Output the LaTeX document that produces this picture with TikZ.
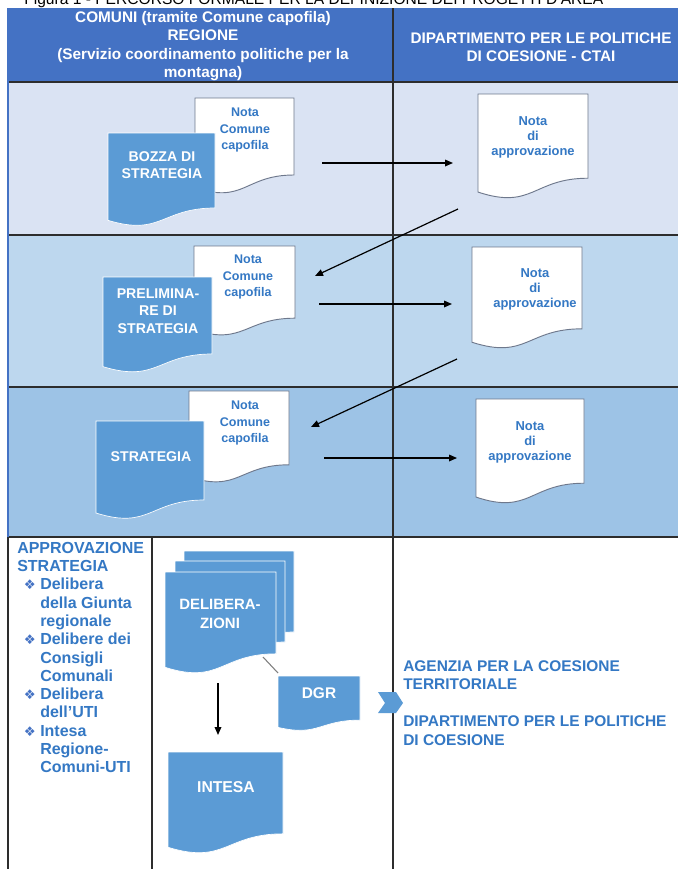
\documentclass[tikz,border=0pt]{standalone}
\usepackage{fontspec}
\setmainfont{Liberation Sans}
\newfontfamily\symfont{DejaVu Sans}
\usetikzlibrary{arrows.meta}
\definecolor{hdr}{RGB}{68,114,196}
\definecolor{rowA}{RGB}{218,227,243}
\definecolor{rowB}{RGB}{189,215,238}
\definecolor{rowC}{RGB}{157,195,230}
\definecolor{docblue}{RGB}{91,155,213}
\definecolor{txtblue}{RGB}{52,120,196}
\definecolor{gridline}{RGB}{45,45,45}
\definecolor{docedge}{RGB}{110,120,140}
\newcommand\setfs[2]{\fontsize{#1}{#2}\selectfont}
\newcommand\docshape[5]{%
 \path[#1] (#2,#3) -- ({#2+#4},#3) -- ({#2+#4},{#3+0.802*#5}) .. controls ({#2+0.5*#4},{#3+0.802*#5}) and ({#2+0.5*#4},{#3+1.107*#5}) .. (#2,{#3+0.934*#5}) -- cycle;}
\newcommand\bul{\hbox to 17.25pt{\hspace{5pt}{\symfont\mdseries\setfs{10}{10}\color{hdr}❖}\hfil}}
\newcommand\ind{\hspace*{17.25pt}}
\tikzset{
 whitedoc/.style={fill=white, draw=docedge, line width=0.7pt},
 bluedoc/.style={fill=docblue, draw=white, line width=0.5pt},
 wtext/.style={align=center, text=txtblue, font=\bfseries\setfs{9.4}{12.5}, inner sep=0pt},
 rtext/.style={align=center, text=txtblue, font=\bfseries\setfs{9.7}{11.25}, inner sep=0pt},
 btext/.style={align=center, text=white, font=\bfseries\setfs{10.6}{12.5}, inner sep=0pt},
 conn/.style={-{Triangle[length=6pt,width=5pt]}, line width=0.9pt, black},
 grid/.style={draw=gridline, line width=0.9pt},
}
\begin{document}
\begin{tikzpicture}[x=0.75pt, y=-0.75pt, font=\bfseries]
\useasboundingbox (0,0) rectangle (678,869);
\fill[white] (0,0) rectangle (678,869);
% title (cut off at top, as in the source)
\node[anchor=base west, font=\mdseries\setfs{11.7}{14}, inner sep=0pt] (title) at (24,4.5) {Figura 1 - PERCORSO FORMALE PER LA DEFINIZIONE DEI PROGETTI D’AREA};
% rows
\fill[hdr] (8,8) rectangle (678,82);
\fill[rowA] (8,82) rectangle (678,235);
\fill[rowB] (8,235) rectangle (678,387);
\fill[rowC] (8,387) rectangle (678,537);
\draw[grid] (8,82) -- (678,82);
\draw[grid] (8,235) -- (678,235);
\draw[grid] (8,387) -- (678,387);
\draw[grid] (8,537) -- (678,537);
\draw[grid] (393,8) -- (393,869);
\draw[grid] (152,537) -- (152,869);
\draw[draw=hdr, line width=1.6pt] (8,8) -- (8,537);
\draw[grid] (8,537) -- (8,869);
% header
\node[align=center, text=white, font=\bfseries\setfs{11.5}{13.9}, inner sep=0pt] (h1) at (203,46) {COMUNI (tramite Comune capofila)\\REGIONE\\(Servizio coordinamento politiche per la\\montagna)};
\node[align=center, text=white, font=\bfseries\setfs{11.5}{13.9}, inner sep=0pt] (h2) at (541,47) {DIPARTIMENTO PER LE POLITICHE\\DI COESIONE - CTAI};
% row 1
\docshape{whitedoc}{195}{98}{99}{96}
\docshape{bluedoc}{108}{133}{107}{93.5}
\docshape{whitedoc}{478}{94}{110}{105}
\node[wtext] (w1) at (245,130) {Nota\\Comune\\capofila};
\node[btext] (b1) at (162,165) {BOZZA DI\\STRATEGIA};
\node[rtext] (r1) at (533,137) {Nota\\di\\approvazione};
% row 2
\docshape{whitedoc}{194}{246}{101}{90}
\docshape{bluedoc}{103}{277}{109}{96}
\docshape{whitedoc}{472}{247}{110}{102}
\node[wtext] (w2) at (248,277) {Nota\\Comune\\capofila};
\node[btext, font=\bfseries\setfs{10.6}{13}] (b2) at (158,311) {PRELIMINA-\\RE DI\\STRATEGIA};
\node[rtext] (r2) at (535,289) {Nota\\di\\approvazione};
% row 3
\docshape{whitedoc}{189}{391}{100}{92}
\docshape{bluedoc}{96}{421}{108}{98.5}
\docshape{whitedoc}{476}{399}{108}{105}
\node[wtext] (w3) at (245,423) {Nota\\Comune\\capofila};
\node[btext] (b3) at (151,457) {STRATEGIA};
\node[rtext] (r3) at (530,442) {Nota\\di\\approvazione};
% arrows rows 1-3
\coordinate (a1s) at (322,163); \coordinate (a1e) at (453,163);
\coordinate (d1s) at (458,209); \coordinate (d1e) at (315,276);
\coordinate (a2s) at (319,304); \coordinate (a2e) at (452,304);
\coordinate (d2s) at (457,359); \coordinate (d2e) at (311,427);
\coordinate (a3s) at (324,458); \coordinate (a3e) at (457,458);
\draw[conn] (a1s) -- (a1e);
\draw[conn] (d1s) -- (d1e);
\draw[conn] (a2s) -- (a2e);
\draw[conn] (d2s) -- (d2e);
\draw[conn] (a3s) -- (a3e);
% row 4
\node[anchor=north west, align=left, text=txtblue, font=\bfseries\setfs{12}{13.7}, inner sep=0pt] (list) at (17,542) {APPROVAZIONE\\STRATEGIA\\
\bul Delibera\\ \ind della Giunta\\ \ind regionale\\
\bul Delibere dei\\ \ind Consigli\\ \ind Comunali\\
\bul Delibera\\ \ind dell’UTI\\
\bul Intesa\\ \ind Regione-\\ \ind Comuni-UTI};
\docshape{bluedoc}{184}{551}{110}{101}
\docshape{bluedoc}{175}{561}{110}{101}
\docshape{bluedoc}{165}{572}{111}{102}
\node[btext, font=\bfseries\setfs{11.2}{14}] (delib) at (220,614) {DELIBERA-\\ZIONI};
\docshape{bluedoc}{278}{676}{82}{55}
\node[btext, font=\bfseries\setfs{11.6}{14}] (dgr) at (319,693) {DGR};
\docshape{bluedoc}{168}{752}{115}{102}
\node[btext, font=\bfseries\setfs{11.8}{14}] (intesa) at (226,787) {INTESA};
\coordinate (l1s) at (263,657); \coordinate (l1e) at (278,673);
\draw[gray, line width=0.8pt] (l1s) -- (l1e);
\coordinate (a4s) at (218,683); \coordinate (a4e) at (218,735);
\draw[conn] (a4s) -- (a4e);
\fill[docblue] (378,692) -- (396,692) -- (403,703) -- (396,713) -- (378,713) -- (385,703) -- cycle;
\node[anchor=north west, align=left, text=txtblue, font=\bfseries\setfs{11.6}{13.9}, inner sep=0pt] (dest) at (403,660) {AGENZIA PER LA COESIONE\\TERRITORIALE\\[13.9pt]DIPARTIMENTO PER LE POLITICHE\\DI COESIONE};
\end{tikzpicture}
\end{document}
